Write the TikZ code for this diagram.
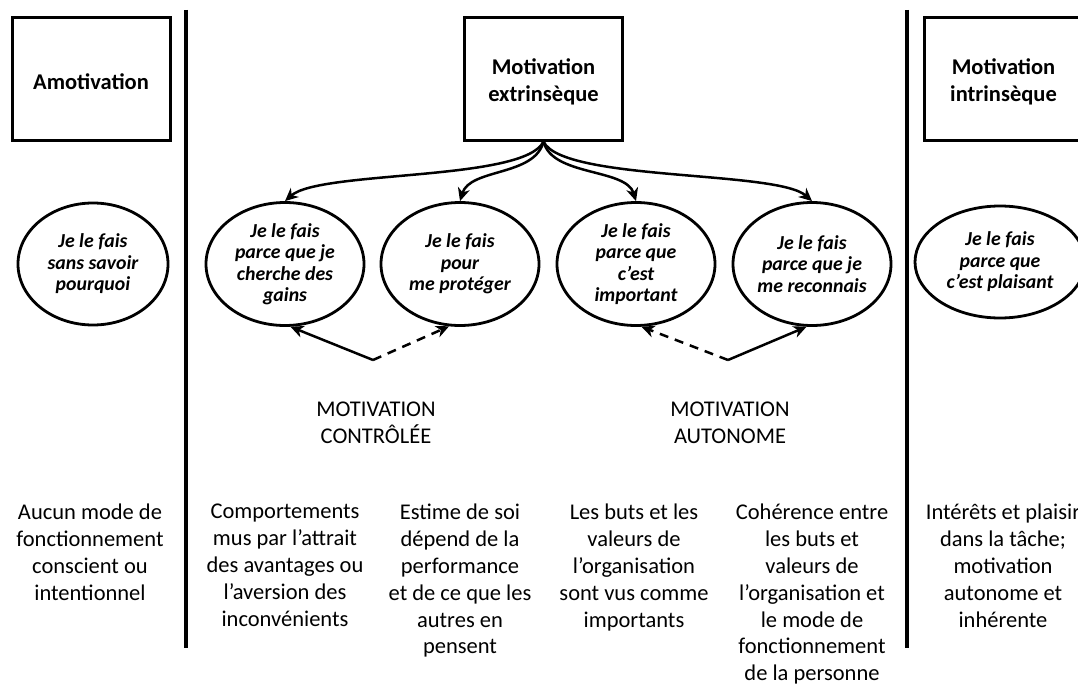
\documentclass[tikz,border=0pt]{standalone}
\usepackage{fontspec}
\setmainfont{Carlito}
\usetikzlibrary{shapes.geometric,arrows.meta}
\tikzset{
  box/.style={draw, line width=3pt, minimum width=158pt, minimum height=122pt, inner sep=0pt},
  boxtext/.style={font=\fontsize{22.5}{27.5}\selectfont\bfseries, align=center, inner sep=0pt, yshift=-3pt},
  oval/.style={draw, ellipse, line width=2.8pt, minimum width=158pt, minimum height=123pt, inner sep=0pt,
    font=\fontsize{19.8}{21.5}\selectfont\bfseries\itshape, align=center},
  desc/.style={anchor=north, align=center, font=\fontsize{22.5}{26.8}\selectfont, inner sep=0pt},
  arr/.style={line width=2.5pt, -{Stealth[length=13pt,width=12pt,inset=4pt]}},
  dsh/.style={dash pattern=on 9pt off 7pt},
  sep/.style={line width=3.5pt}
}
\begin{document}
\begin{tikzpicture}[x=1pt,y=-1pt]
\useasboundingbox (0,0) rectangle (1078,685);
\clip (0,0) rectangle (1078,685);
% separators
\draw[sep] (186,10) -- (186,648);
\draw[sep] (907,10) -- (907,648);
% top boxes
\node[box, label={[boxtext]center:Amotivation}] (amo) at (91,79) {};
\node[box, label={[boxtext]center:Motivation\\extrinsèque}] (ext) at (543.5,79) {};
\node[box, label={[boxtext]center:Motivation\\intrinsèque}] (intr) at (1003.5,79) {};
% ellipses
\node[oval, minimum width=150pt, minimum height=122pt] (e0) at (93,264) {Je le fais\\sans savoir\\pourquoi};
\node[oval] (e1) at (285,264) {Je le fais\\parce que je\\cherche des\\gains};
\node[oval] (e2) at (460,264) {Je le fais\\pour\\me protéger};
\node[oval] (e3) at (636,264) {Je le fais\\parce que\\c’est\\important};
\node[oval] (e4) at (812,264) {Je le fais\\parce que je\\me reconnais};
\node[oval, minimum width=170pt, minimum height=112pt] (e5) at (1000,262) {Je le fais\\parce que\\c’est plaisant};
% top curved arrows
\draw[arr] (ext.south) .. controls +(-18.5,40) and +(35,-31) .. (e1.north);
\draw[arr] (ext.south) .. controls +(-8.5,35) and +(10,-33) .. (e2.north);
\draw[arr] (ext.south) .. controls +(8.5,35) and +(-10,-33) .. (e3.north);
\draw[arr] (ext.south) .. controls +(18.5,40) and +(-35,-31) .. (e4.north);
% bottom arrows
\coordinate (a1) at (373,360);
\coordinate (a2) at (728,360);
\draw[arr] (a1) -- (e1.275);
\draw[arr, dsh] (a1) -- (e2.260);
\draw[arr, dsh] (a2) -- (e3.275);
\draw[arr] (a2) -- (e4.265);
% labels
\node[desc] (mc) at (376,402) {MOTIVATION\\CONTRÔLÉE};
\node[desc] (ma) at (730,402) {MOTIVATION\\AUTONOME};
% descriptions
\node[desc] (c0) at (90,504) {Aucun mode de\\fonctionnement\\conscient ou\\intentionnel};
\node[desc] (c1) at (285,504) {Comportements\\mus par l’attrait\\des avantages ou\\l’aversion des\\inconvénients};
\node[desc] (c2) at (460,504) {Estime de soi\\dépend de la\\performance\\et de ce que les\\autres en\\pensent};
\node[desc] (c3) at (634,504) {Les buts et les\\valeurs de\\l’organisation\\sont vus comme\\importants};
\node[desc] (c4) at (812,504) {Cohérence entre\\les buts et\\valeurs de\\l’organisation et\\le mode de\\fonctionnement\\de la personne};
\node[desc] (c5) at (1003,504) {Intérêts et plaisir\\dans la tâche;\\motivation\\autonome et\\inhérente};
\end{tikzpicture}
\end{document}
